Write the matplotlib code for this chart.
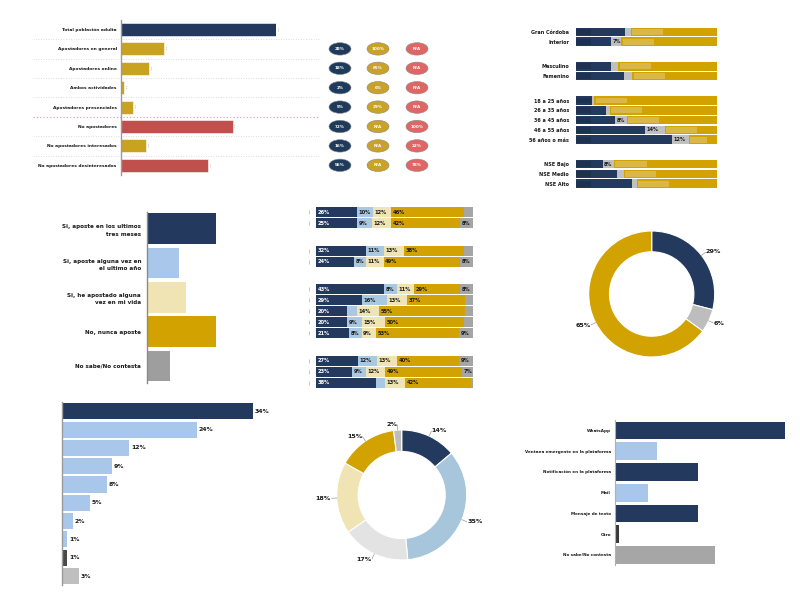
import matplotlib
matplotlib.use('Agg')
import matplotlib.pyplot as plt
from matplotlib.patches import Ellipse, Rectangle
import numpy as np

plt.rcParams['font.family'] = ['DejaVu Sans']

W, H = 800, 600
fig = plt.figure(figsize=(8, 6), dpi=100)
fig.patch.set_facecolor('white')

NAVY = '#233a5e'
NAVY_D = '#1e3150'
GOLD = '#d2a300'
GOLD1 = '#c9a21f'
GOLD_L = '#d9b848'
RED = '#c0504d'
PINK = '#e06666'
LBLUE = '#a9c7ea'
LBLUE2 = '#a7c6dc'
CREAM = '#f1e4b4'
GRAY = '#a5a5a5'
LGRAY = '#c0c0c0'
XLGRAY = '#e3e3e3'
DGRAY = '#4a4a4a'
TXT = '#1a1a1a'

# ---------------- data ----------------
p1_labels = ['Total población adulta', 'Apostadores en general', 'Apostadores online',
             'Ambos actividades', 'Apostadores presenciales', 'No apostadores',
             'No apostadores interesados', 'No apostadores desinteresados']
p1_values = [100, 28, 18, 2, 8, 72, 16, 56]
p1_colors = [NAVY, GOLD1, GOLD1, GOLD1, GOLD1, RED, GOLD1, RED]
pill_a = ['28%', '18%', '2%', '5%', '72%', '16%', '56%']
pill_b = ['100%', '65%', '6%', '29%', 'N/A', 'N/A', 'N/A']
pill_c = ['N/A', 'N/A', 'N/A', 'N/A', '100%', '22%', '78%']

seg_groups = [2, 2, 5, 3]
p2_labels = ['Gran Córdoba', 'Interior', 'Masculino', 'Femenino', '18 a 25 años',
             '26 a 35 años', '36 a 45 años', '46 a 55 años', '56 años o más',
             'NSE Bajo', 'NSE Medio', 'NSE Alto']
p2_navy = [35, 25, 25, 34, 11, 21, 28, 49, 68, 19, 29, 40]
p2_gray = [4, 7, 5, 6, 2, 3, 8, 14, 12, 8, 5, 3]

p3_labels = ['Si, aposte en los ultimos\ntres meses', 'Si, aposte alguna vez en\nel ultimo año',
             'Si, he apostado alguna\nvez en mi vida', 'No, nunca aposte', 'No sabe/No contesta']
p3_values = [30, 14, 17, 30, 10]
p3_colors = [NAVY, LBLUE, CREAM, GOLD, '#9e9e9e']

p4_navy = [26, 25, 32, 24, 43, 29, 20, 20, 21, 27, 23, 38]
p4_lblue = [10, 9, 11, 8, 8, 16, 6, 9, 8, 12, 9, 6]
p4_cream = [12, 12, 13, 11, 11, 13, 14, 15, 9, 13, 12, 13]
p4_gold = [46, 42, 38, 49, 29, 37, 55, 50, 53, 40, 49, 42]
p4_gray = [6, 8, 6, 8, 8, 5, 5, 6, 9, 9, 7, 1]

d1_values = [29, 6, 65]
d1_colors = [NAVY, '#bdbdbd', GOLD]

p6_values = [34, 24, 12, 9, 8, 5, 2, 1, 1, 3]
p6_colors = [NAVY] + [LBLUE] * 7 + [DGRAY, '#bfbfbf']

d2_values = [14, 35, 17, 18, 15, 2]
d2_colors = [NAVY, LBLUE2, XLGRAY, CREAM, GOLD, '#bdbdbd']

p8_labels = ['WhatsApp', 'Ventana emergente en la plataforma', 'Notificación en la plataforma',
             'Mail', 'Mensaje de texto', 'Otro', 'No sabe/No contesta']
p8_values = [41, 10, 20, 8, 20, 1, 24]
p8_colors = [NAVY, LBLUE, NAVY, LBLUE, NAVY, '#3a3a3a', '#a6a6a6']


def px_axes(x0, y0, x1, y1):
    return fig.add_axes([x0 / W, 1 - y1 / H, (x1 - x0) / W, (y1 - y0) / H])


def clean(ax):
    for s in ax.spines.values():
        s.set_visible(False)
    ax.set_xticks([])
    ax.set_yticks([])


def group_positions(groups, gap=2.5):
    pos, p = [], 0.0
    for g in groups:
        for k in range(g):
            pos.append(p)
            p += 1
        p += gap - 1
    return np.array(pos)


# ---------------- Panel 1 ----------------
ax1 = px_axes(121, 19.8, 276, 175)
clean(ax1)
y1 = np.arange(len(p1_values))
ax1.barh(y1, p1_values, height=0.67, color=p1_colors, edgecolor='white', linewidth=0.4)
ax1.set_xlim(0, 100)
ax1.set_ylim(len(p1_values) - 0.5, -0.5)
ax1.set_yticks(y1)
ax1.set_yticklabels(p1_labels, fontsize=3.15, fontweight='bold', color=TXT)
ax1.tick_params(axis='y', length=0, pad=3)
ax1.spines['left'].set_visible(True)
ax1.spines['left'].set_color('#9a9a9a')
ax1.spines['left'].set_linewidth(1)
lx0 = (33 - 121) / 155 * 100
lx1 = (322 - 121) / 155 * 100
for i in range(len(p1_values) - 1):
    col = '#d4b24a' if i == 4 else '#d0d0d0'
    ax1.plot([lx0, lx1], [i + 0.5, i + 0.5], ls=(0, (1, 2)), color=col, lw=0.8 if i == 4 else 0.6,
             clip_on=False)
for yy, v in zip(y1, p1_values):
    ax1.text(v + 0.8, yy, '¦', ha='left', va='center', fontsize=2.5, color='#777777')

axp = px_axes(320, 19.8, 440, 175)
clean(axp)
axp.set_xlim(320, 440)
axp.set_ylim(len(p1_values) - 0.5, -0.5)
for col_x, vals, fc in [(340, pill_a, '#1f3b5c'), (378, pill_b, '#c9a227'), (417, pill_c, PINK)]:
    for r, t in enumerate(vals):
        axp.add_patch(Ellipse((col_x, r + 1), 22, 0.64, facecolor=fc, edgecolor='#8a8a8a', lw=0.4))
        axp.text(col_x, r + 1, t, ha='center', va='center', fontsize=3.0, color='white',
                 fontweight='bold')

# ---------------- Panel 2 ----------------
pos2 = group_positions(seg_groups)
s2 = (183.7 - 32) / pos2[-1]
ax2 = px_axes(576, 32 - s2 / 2, 717, 183.7 + s2 / 2)
clean(ax2)
navy2 = np.array(p2_navy, float)
gray2 = np.array(p2_gray, float)
gold2 = 100 - navy2 - gray2
bh = 0.88
ax2.barh(pos2, navy2, height=bh, color=NAVY)
ax2.barh(pos2, gray2, left=navy2, height=bh, color=LGRAY)
ax2.barh(pos2, gold2, left=navy2 + gray2, height=bh, color=GOLD)
for p, n, g in zip(pos2, navy2, gray2):
    ax2.add_patch(Rectangle((0, p - 0.3), 10.5, 0.6, color=NAVY_D, lw=0))
    start = n + g + 1
    wdt = min(22, 100 - start - 7)
    ax2.add_patch(Rectangle((start, p - 0.3), wdt, 0.6, color=GOLD_L, lw=0))
    if g >= 7:
        ax2.text(n + 0.8, p, f'{int(g)}%', ha='left', va='center', fontsize=3.6,
                 fontweight='bold', color=TXT)
ax2.set_xlim(0, 100)
ax2.set_ylim(pos2[-1] + 0.5, -0.5)
ax2.set_yticks(pos2)
ax2.set_yticklabels(p2_labels, fontsize=3.5, fontweight='bold', color=TXT)
ax2.tick_params(axis='y', length=0, pad=5)

# ---------------- Panel 3 ----------------
s3 = 34.3
ax3 = px_axes(146.7, 228.7 - s3 / 2, 260, 366 + s3 / 2)
clean(ax3)
y3 = np.arange(len(p3_values))
ax3.barh(y3, p3_values, height=0.89, color=p3_colors)
ax3.set_xlim(0, (260 - 146.7) / ((216 - 146.7) / 30))
ax3.set_ylim(len(p3_values) - 0.5, -0.5)
ax3.set_yticks(y3)
ax3.set_yticklabels(p3_labels, fontsize=4.1, fontweight='bold', color=TXT, linespacing=1.6)
ax3.tick_params(axis='y', length=0, pad=4)
ax3.spines['left'].set_visible(True)
ax3.spines['left'].set_color('#8a8a8a')
ax3.spines['left'].set_linewidth(1)

# ---------------- Panel 4 ----------------
pos4 = group_positions(seg_groups)
s4 = (383 - 212.3) / pos4[-1]
ax4 = px_axes(316, 212.3 - s4 / 2, 473, 383 + s4 / 2)
clean(ax4)
raw = [p4_navy, p4_lblue, p4_cream, p4_gold, p4_gray]
segs = [np.array(a, float) for a in raw]
tot = sum(segs)
segs = [a / tot * 100 for a in segs]
seg_cols = [NAVY, '#a9c9e2', CREAM, GOLD, GRAY]
seg_txt = ['white', TXT, TXT, TXT, TXT]
left = np.zeros(len(pos4))
for k, (vals, c) in enumerate(zip(segs, seg_cols)):
    ax4.barh(pos4, vals, left=left, height=0.9, color=c)
    for p, l, v, rv in zip(pos4, left, vals, raw[k]):
        if rv >= 7:
            ax4.text(l + 1.0, p, f'{rv}%', ha='left', va='center', fontsize=3.7,
                     fontweight='bold', color=seg_txt[k])
    left = left + vals
ax4.set_xlim(0, 100)
ax4.set_ylim(pos4[-1] + 0.5, -0.5)
for p in pos4:
    ax4.plot([-4.5], [p], marker='|', ms=2.5, mew=0.5, color='#b0b0b0', clip_on=False)


# ---------------- Donut helper ----------------
def donut(ax, vals, colors, r_px):
    wedges, _ = ax.pie(vals, colors=colors, startangle=90, counterclock=False,
                       wedgeprops=dict(width=0.33, edgecolor='white', linewidth=0.8))
    for w, v in zip(wedges, vals):
        ang = np.deg2rad((w.theta1 + w.theta2) / 2)
        c, s = np.cos(ang), np.sin(ang)
        ax.plot([c * 1.0, c * 1.08], [s * 1.0, s * 1.08], color='#9a9a9a', lw=0.5)
        ax.text(c * 1.09, s * 1.09, f'{v}%', ha='left' if c >= 0 else 'right',
                va='center', fontsize=4.6, fontweight='bold', color=TXT)
    ax.set_aspect('equal')
    lim = 90 / r_px
    ax.set_xlim(-lim, lim)
    ax.set_ylim(-lim, lim)
    ax.axis('off')


ax5 = px_axes(651.7 - 90, 294 - 90, 651.7 + 90, 294 + 90)
donut(ax5, d1_values, d1_colors, 63)

ax7 = px_axes(401.7 - 90, 495 - 90, 401.7 + 90, 495 + 90)
donut(ax7, d2_values, d2_colors, 65)

# ---------------- Panel 6 ----------------
s6 = 18.3
ax6 = px_axes(61.7, 411.3 - s6 / 2, 285, 576 + s6 / 2)
clean(ax6)
y6 = np.arange(len(p6_values))
ax6.barh(y6, p6_values, height=0.88, color=p6_colors)
for yy, v in zip(y6, p6_values):
    ax6.text(v + 0.3, yy, f'{v}%', ha='left', va='center', fontsize=4.4, fontweight='bold',
             color=TXT)
ax6.set_xlim(0, (285 - 61.7) / 5.62)
ax6.set_ylim(len(p6_values) - 0.5, -0.5)
ax6.spines['left'].set_visible(True)
ax6.spines['left'].set_color('#9a9a9a')
ax6.spines['left'].set_linewidth(1)

# ---------------- Panel 8 ----------------
s8 = 20.75
ax8 = px_axes(615, 430.5 - s8 / 2, 790, 430.5 + 6 * s8 + s8 / 2)
clean(ax8)
y8 = np.arange(len(p8_values))
ax8.barh(y8, p8_values, height=0.85, color=p8_colors)
ax8.set_xlim(0, (790 - 615) / 4.15)
ax8.set_ylim(len(p8_values) - 0.5, -0.5)
ax8.set_yticks(y8)
ax8.set_yticklabels(p8_labels, fontsize=3.0, fontweight='bold', color=TXT)
ax8.tick_params(axis='y', length=0, pad=3)
ax8.spines['left'].set_visible(True)
ax8.spines['left'].set_color('#b0b0b0')
ax8.spines['left'].set_linewidth(0.8)

fig.savefig('out.png', dpi=100, facecolor='white')
